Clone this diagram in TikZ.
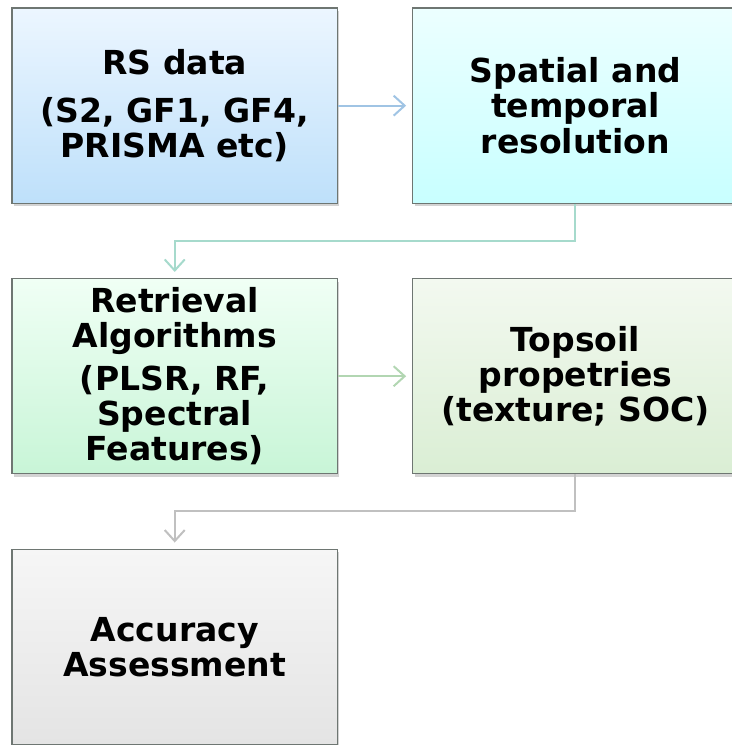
\documentclass[tikz,border=0pt]{standalone}
\usepackage{fontspec}
\setmainfont{DejaVu Sans}
\usetikzlibrary{arrows.meta,positioning,shadows}

\definecolor{rstop}{RGB}{236,246,255}
\definecolor{rsbot}{RGB}{190,224,250}
\definecolor{sptop}{RGB}{236,255,255}
\definecolor{spbot}{RGB}{200,255,255}
\definecolor{rettop}{RGB}{240,255,245}
\definecolor{retbot}{RGB}{200,245,215}
\definecolor{soiltop}{RGB}{243,249,240}
\definecolor{soilbot}{RGB}{218,238,212}
\definecolor{acctop}{RGB}{246,246,246}
\definecolor{accbot}{RGB}{228,228,228}
\definecolor{boxline}{RGB}{110,118,114}
\definecolor{linkblue}{RGB}{160,196,228}
\definecolor{linkteal}{RGB}{166,218,204}
\definecolor{linkgreen}{RGB}{178,214,178}
\definecolor{linkgray}{RGB}{192,192,192}

\begin{document}
\begin{tikzpicture}[
	node distance=37pt,
	box/.style={draw=boxline, line width=0.6pt, minimum width=162.5pt, minimum height=97.5pt,
		inner sep=0pt, align=center, font=\fontsize{16.5}{17.5}\selectfont\bfseries,
		drop shadow={shadow xshift=1pt, shadow yshift=-1.5pt, opacity=0.35}},
	link/.style={line width=1pt, -{Straight Barb[length=5.5pt,width=10pt]}, shorten >=3pt}
]
\useasboundingbox (-87.25pt,52.75pt) rectangle (278.25pt,-319.25pt);

\node[box,top color=rstop,bottom color=rsbot] (rs) at (0,0) {RS data\\[6pt] (S2, GF1, GF4,\\ PRISMA etc)};
\node[box,top color=sptop,bottom color=spbot] (sp) [right=of rs] {Spatial and\\ temporal\\ resolution};
\node[box,top color=rettop,bottom color=retbot] (ret) [below=of rs] {Retrieval\\ Algorithms\\[4pt] (PLSR, RF,\\ Spectral\\ Features)};
\node[box,top color=soiltop,bottom color=soilbot] (soil) [right=of ret] {Topsoil\\ propetries\\ (texture; SOC)};
\node[box,top color=acctop,bottom color=accbot] (acc) [below=of ret] {Accuracy\\ Assessment};

\draw[link,linkblue] (rs) -- (sp);
\draw[link,linkteal] (sp.south) -- ++(0,-18.5pt) -| (ret.north);
\draw[link,linkgreen] (ret) -- (soil);
\draw[link,linkgray] (soil.south) -- ++(0,-18.5pt) -| (acc.north);
\end{tikzpicture}
\end{document}
